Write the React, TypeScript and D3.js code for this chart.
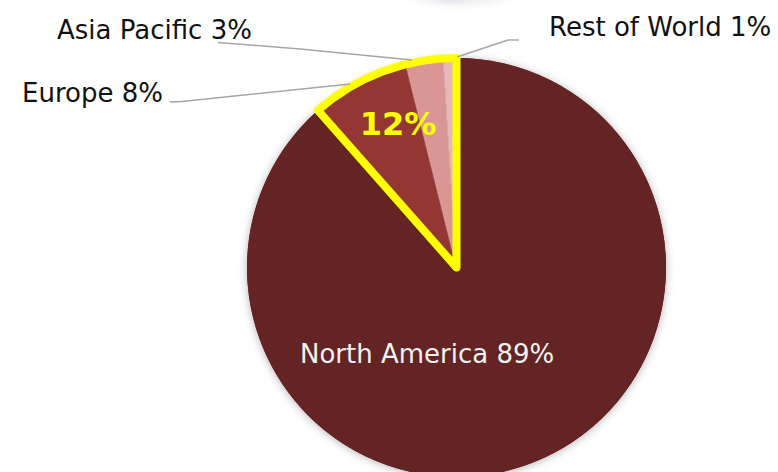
import React from "react";
import * as d3 from "d3";

const regions = ["North America", "Europe", "Asia Pacific", "Rest of World"];
const shares = [88.5, 7.6, 2.9, 1.0];
const colors = ["#632423", "#943634", "#d99694", "#e6b9b8"];
const highlighted = ["Europe", "Asia Pacific", "Rest of World"];

const W = 778;
const H = 472;
const cx = 456.5;
const cy = 267.5;
const R = 209.5;

const labelPos: Record<string, { x: number; y: number; fill: string }> = {
  "North America": { x: 300, y: 363, fill: "#f2f2f2" },
  Europe: { x: 22, y: 102, fill: "#111" },
  "Asia Pacific": { x: 57, y: 39, fill: "#111" },
  "Rest of World": { x: 549, y: 36, fill: "#111" },
};

const leaders: Record<string, [number, number][]> = {
  Europe: [[170, 102], [182, 101.5], [350, 84]],
  "Asia Pacific": [[218, 42.5], [300, 49], [412, 60]],
  "Rest of World": [[457, 57], [508, 40], [519, 40]],
};

export default function App() {
  const pie = d3.pie<number>().sort(null).value((d) => d);
  const arcs = pie(shares);
  const arc = d3.arc<d3.PieArcDatum<number>>().innerRadius(0).outerRadius(R);

  const hi = arcs.filter((_, i) => highlighted.includes(regions[i]));
  const hiStart = d3.min(hi, (a) => a.startAngle)!;
  const hiEnd = d3.max(hi, (a) => a.endAngle)!;
  const hiSum = d3.sum(hi, (a) => a.value);
  const hiPath = d3.arc()({ innerRadius: 0, outerRadius: R, startAngle: hiStart, endAngle: hiEnd } as any)!;
  const line = d3.line();

  return (
    <svg width={W} height={H} style={{ position: "absolute", left: 0, top: 0 }} fontFamily="'DejaVu Sans', Verdana, sans-serif">
      <defs>
        <filter id="sh" x="-20%" y="-20%" width="140%" height="140%">
          <feDropShadow dx="0" dy="1" stdDeviation="4" floodColor="#000" floodOpacity="0.3" />
        </filter>
        <filter id="blur" x="-50%" y="-50%" width="200%" height="200%">
          <feGaussianBlur stdDeviation="5" />
        </filter>
      </defs>
      <rect width={W} height={H} fill="#fff" />
      {/* partial element at top (cut off) */}
      <ellipse cx={460} cy={-42} rx={85} ry={46} fill="#000" opacity={0.08} filter="url(#blur)" />
      <ellipse cx={450} cy={-40} rx={40} ry={40} fill="#b9c8e6" opacity={0.45} filter="url(#blur)" />
      <g transform={`translate(${cx},${cy})`}>
        <circle r={R} fill={colors[0]} filter="url(#sh)" />
        {arcs.map((a, i) => (
          <path key={regions[i]} d={arc(a)!} fill={colors[i]} stroke={i === 0 ? "none" : "rgba(255,255,255,0.25)"} strokeWidth={0.8} />
        ))}
        <path d={hiPath} fill="none" stroke="#ffff00" strokeWidth={8} strokeLinejoin="round" />
      </g>
      {Object.entries(leaders).map(([k, pts]) => (
        <path key={k} d={line(pts)!} fill="none" stroke="#a6a6a6" strokeWidth={1.5} />
      ))}
      {regions.map((r, i) => (
        <text key={r} x={labelPos[r].x} y={labelPos[r].y} fontSize={26} fill={labelPos[r].fill}>
          {`${r} ${Math.round(shares[i])}%`}
        </text>
      ))}
      <text x={398} y={135} fontSize={32} fontWeight="bold" fill="#ffff00" textAnchor="middle">
        {`${Math.round(hiSum)}%`}
      </text>
    </svg>
  );
}
